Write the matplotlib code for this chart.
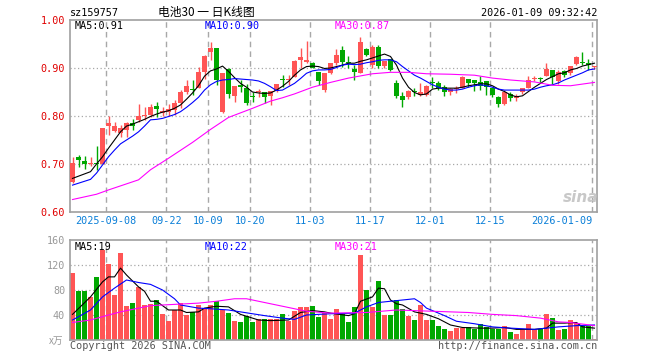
import numpy as np
import matplotlib
matplotlib.use("Agg")
import matplotlib.pyplot as plt

W, H = 660, 360

# daily candles, 2025-08-29 .. 2026-01-09 (88 sessions)
opens = [0.663, 0.715, 0.707, 0.700, 0.703, 0.699, 0.779, 0.769, 0.764, 0.771,
         0.785, 0.792, 0.799, 0.802, 0.821, 0.806, 0.808, 0.812, 0.828, 0.851,
         0.856, 0.858, 0.892, 0.934, 0.942, 0.809, 0.897, 0.842, 0.864, 0.858,
         0.841, 0.850, 0.851, 0.842, 0.853, 0.876, 0.875, 0.882, 0.917, 0.912,
         0.910, 0.892, 0.854, 0.890, 0.911, 0.938, 0.912, 0.897, 0.889, 0.939,
         0.906, 0.943, 0.904, 0.918, 0.869, 0.842, 0.839, 0.852, 0.844, 0.844,
         0.870, 0.868, 0.861, 0.849, 0.856, 0.858, 0.878, 0.874, 0.871, 0.873,
         0.858, 0.840, 0.825, 0.845, 0.838, 0.849, 0.858, 0.878, 0.879, 0.883,
         0.896, 0.872, 0.894, 0.889, 0.908, 0.912, 0.911, 0.902]
highs = [0.714, 0.719, 0.717, 0.715, 0.737, 0.776, 0.800, 0.788, 0.781, 0.788,
         0.793, 0.826, 0.818, 0.825, 0.830, 0.818, 0.826, 0.833, 0.854, 0.876,
         0.876, 0.903, 0.927, 0.955, 0.942, 0.889, 0.901, 0.862, 0.875, 0.866,
         0.851, 0.856, 0.851, 0.853, 0.867, 0.885, 0.885, 0.917, 0.941, 0.957,
         0.913, 0.892, 0.889, 0.911, 0.939, 0.946, 0.925, 0.906, 0.965, 0.941,
         0.948, 0.948, 0.915, 0.918, 0.876, 0.851, 0.854, 0.858, 0.868, 0.865,
         0.881, 0.872, 0.865, 0.858, 0.862, 0.883, 0.878, 0.875, 0.883, 0.873,
         0.861, 0.842, 0.854, 0.851, 0.846, 0.858, 0.883, 0.883, 0.882, 0.910,
         0.896, 0.896, 0.896, 0.904, 0.925, 0.934, 0.918, 0.905]
lows = [0.660, 0.694, 0.690, 0.695, 0.688, 0.699, 0.760, 0.767, 0.757, 0.757,
        0.771, 0.788, 0.792, 0.797, 0.797, 0.800, 0.800, 0.802, 0.816, 0.846,
        0.844, 0.858, 0.878, 0.917, 0.865, 0.807, 0.837, 0.830, 0.851, 0.823,
        0.830, 0.839, 0.828, 0.823, 0.851, 0.861, 0.865, 0.881, 0.899, 0.910,
        0.899, 0.865, 0.851, 0.888, 0.906, 0.903, 0.899, 0.874, 0.889, 0.924,
        0.899, 0.899, 0.899, 0.894, 0.838, 0.819, 0.835, 0.842, 0.842, 0.842,
        0.858, 0.854, 0.842, 0.844, 0.847, 0.858, 0.861, 0.853, 0.854, 0.844,
        0.839, 0.818, 0.823, 0.832, 0.832, 0.846, 0.858, 0.872, 0.868, 0.883,
        0.867, 0.867, 0.881, 0.885, 0.906, 0.906, 0.896, 0.897]
closes = [0.703, 0.708, 0.701, 0.703, 0.700, 0.776, 0.786, 0.779, 0.774, 0.785,
          0.779, 0.801, 0.803, 0.818, 0.815, 0.811, 0.815, 0.828, 0.851, 0.863,
          0.854, 0.892, 0.924, 0.941, 0.875, 0.889, 0.846, 0.862, 0.861, 0.828,
          0.840, 0.851, 0.839, 0.853, 0.867, 0.875, 0.878, 0.915, 0.922, 0.917,
          0.901, 0.873, 0.889, 0.910, 0.927, 0.913, 0.911, 0.891, 0.955, 0.927,
          0.943, 0.904, 0.915, 0.896, 0.842, 0.834, 0.853, 0.850, 0.851, 0.862,
          0.869, 0.858, 0.849, 0.856, 0.857, 0.881, 0.869, 0.868, 0.862, 0.861,
          0.844, 0.826, 0.851, 0.837, 0.842, 0.858, 0.875, 0.879, 0.878, 0.897,
          0.881, 0.892, 0.885, 0.904, 0.922, 0.911, 0.906, 0.903]
volumes = [107.7, 78.9, 78.9, 69.3, 101.3, 144.5, 122.0, 72.5, 139.7, 55.0,
           59.7, 85.3, 56.5, 58.0, 63.5, 41.6, 30.9, 48.5, 59.7, 40.5,
           45.3, 56.5, 51.7, 56.5, 62.9, 48.5, 43.7, 30.9, 29.3, 37.9,
           29.3, 34.1, 33.0, 33.0, 33.0, 41.8, 31.0, 46.8, 52.5, 52.5,
           55.0, 37.6, 43.0, 33.6, 49.6, 41.0, 28.8, 53.3, 136.0, 80.0,
           53.3, 94.4, 40.0, 40.0, 64.0, 49.6, 38.4, 32.0, 56.0, 32.0,
           32.0, 22.4, 17.6, 14.4, 18.7, 18.7, 20.8, 17.0, 25.0, 20.8,
           18.0, 18.0, 23.0, 12.8, 10.0, 15.5, 25.6, 15.5, 18.0, 41.6,
           35.2, 16.0, 17.6, 32.0, 27.7, 22.4, 22.4, 1.6]

# moving averages as drawn (read at candle positions)
ma5_idx = [0, 3, 4, 5, 6, 7, 8, 9, 10, 11, 12, 13, 14, 15, 16, 17, 18, 19, 20, 21,
           22, 23, 24, 25, 26, 27, 28, 29, 30, 31, 32, 33, 34, 35, 36, 37, 38, 39,
           40, 41, 42, 43, 44, 45, 46, 47, 48, 49, 50, 51, 52, 53, 54, 55, 56, 57,
           58, 59, 60, 61, 62, 63, 64, 65, 66, 67, 68, 69, 70, 71, 72, 73, 74, 75,
           76, 77, 78, 79, 80, 81, 82, 83, 84, 85, 86, 87]
ma5_val = [0.670, 0.684, 0.700, 0.715, 0.733, 0.750, 0.767, 0.779, 0.783, 0.788,
           0.793, 0.799, 0.804, 0.808, 0.811, 0.816, 0.823, 0.835, 0.848, 0.863,
           0.883, 0.894, 0.898, 0.904, 0.893, 0.880, 0.868, 0.860, 0.850, 0.848,
           0.847, 0.848, 0.854, 0.862, 0.872, 0.885, 0.896, 0.903, 0.904, 0.903,
           0.899, 0.900, 0.903, 0.906, 0.910, 0.910, 0.914, 0.917, 0.921, 0.925,
           0.929, 0.924, 0.906, 0.879, 0.860, 0.849, 0.844, 0.846, 0.856, 0.858,
           0.858, 0.858, 0.858, 0.860, 0.863, 0.865, 0.867, 0.867, 0.863, 0.856,
           0.851, 0.844, 0.840, 0.842, 0.851, 0.860, 0.868, 0.876, 0.882, 0.888,
           0.890, 0.896, 0.899, 0.904, 0.907, 0.910]
ma10_idx = [0, 3, 4, 5, 6, 7, 8, 9, 10, 11, 12, 13, 14, 15, 16, 17, 18, 19, 20, 21,
            22, 23, 24, 25, 26, 27, 28, 29, 30, 31, 32, 33, 34, 35, 36, 37, 38, 39,
            40, 41, 42, 43, 44, 45, 46, 47, 48, 49, 50, 51, 52, 53, 54, 55, 56, 57,
            58, 59, 60, 61, 62, 63, 64, 65, 66, 67, 68, 69, 70, 71, 72, 73, 74, 75,
            76, 77, 78, 79, 80, 81, 82, 83, 84, 85, 86, 87]
ma10_val = [0.656, 0.668, 0.681, 0.698, 0.715, 0.729, 0.742, 0.750, 0.758, 0.767,
            0.779, 0.792, 0.793, 0.795, 0.799, 0.803, 0.809, 0.818, 0.828, 0.839,
            0.854, 0.865, 0.872, 0.875, 0.876, 0.878, 0.877, 0.876, 0.875, 0.873,
            0.868, 0.861, 0.853, 0.854, 0.861, 0.868, 0.878, 0.889, 0.894, 0.896,
            0.896, 0.897, 0.901, 0.906, 0.908, 0.907, 0.908, 0.911, 0.913, 0.916,
            0.917, 0.917, 0.913, 0.903, 0.894, 0.885, 0.879, 0.872, 0.865, 0.860,
            0.856, 0.854, 0.854, 0.856, 0.860, 0.863, 0.865, 0.863, 0.860, 0.856,
            0.854, 0.854, 0.854, 0.854, 0.854, 0.856, 0.860, 0.863, 0.865, 0.869,
            0.875, 0.880, 0.885, 0.890, 0.896, 0.898]
ma30_idx = [0, 4, 6, 11, 13, 16, 20, 23, 26, 30, 33, 35, 37, 40, 43, 46, 50, 53,
            56, 59, 63, 67, 70, 73, 77, 80, 83, 87]
ma30_val = [0.626, 0.637, 0.646, 0.667, 0.688, 0.712, 0.745, 0.772, 0.797, 0.816,
            0.831, 0.838, 0.846, 0.860, 0.870, 0.879, 0.888, 0.891, 0.891, 0.888,
            0.887, 0.885, 0.879, 0.875, 0.871, 0.864, 0.863, 0.870]

vma5_idx = [0, 3, 5, 6, 7, 8, 9, 11, 12, 13, 14, 16, 18, 19, 21, 22, 24, 26, 28,
            31, 33, 36, 38, 40, 42, 43, 46, 47, 48, 50, 51, 52, 53, 54, 55, 57, 59,
            61, 63, 65, 68, 70, 72, 74, 77, 79, 80, 82, 84, 85, 87]
vma5_val = [41, 69, 93, 101, 101, 115, 104, 85, 78, 62, 62, 48, 48, 44, 45, 51, 54,
            53, 41, 32, 31, 32, 44, 47, 45, 43, 39, 42, 62, 69, 83, 82, 64, 58, 56,
            45, 41, 34, 24, 20, 19, 19, 20, 17, 17, 19, 27, 27, 28, 21, 19]
vma10_idx = [0, 3, 5, 7, 9, 11, 13, 15, 17, 18, 21, 23, 26, 28, 32, 35, 37, 39, 43,
             47, 49, 51, 54, 57, 58, 59, 62, 64, 67, 70, 73, 77, 79, 81, 84, 87]
vma10_val = [32, 48, 69, 83, 96, 92, 89, 80, 66, 56, 51, 50, 48, 45, 39, 35, 33, 40,
             42, 43, 53, 60, 63, 66, 60, 51, 39, 30, 26, 21, 19, 17, 19, 21, 23, 24]
vma30_idx = [0, 3, 6, 8, 11, 13, 17, 21, 24, 27, 29, 33, 36, 39, 43, 49, 54, 60, 66,
             70, 74, 78, 81, 83, 87]
vma30_val = [28, 32, 40, 45, 51, 55, 57, 59, 62, 66, 66, 58, 52, 46, 43, 44, 48, 46,
             44, 41, 39, 35, 29, 28, 23]

date_labels = ["2025-09-08", "09-22", "10-09", "10-20", "11-03", "11-17", "12-01",
               "12-15", "2026-01-09"]
date_index = [6, 16, 23, 30, 40, 50, 60, 70, 87]

RED = "#ff5555"
GREEN = "#00a800"
GRID = "#a8a8a8"
FRAME = "#a0a0a0"
MONO = "DejaVu Sans Mono"
CJK = ["Noto Sans CJK SC", "DejaVu Sans"]

plt.rcParams["font.family"] = MONO

fig = plt.figure(figsize=(W / 100, H / 100), dpi=100)
ax = fig.add_axes([70 / W, 1 - 212 / H, 527 / W, 192 / H])
axv = fig.add_axes([70 / W, 1 - 340 / H, 527 / W, 100 / H])

idx = np.arange(len(closes))
o, h, l, c = map(np.array, (opens, highs, lows, closes))
colors = [RED if cc >= oo else GREEN for oo, cc in zip(o, c)]
xlim = (-0.42, len(closes) - 0.58)
vlines_x = [d - 0.38 for d in date_index]

for a in (ax, axv):
    a.set_xlim(*xlim)
    for s in a.spines.values():
        s.set_color(FRAME)
        s.set_linewidth(1.2)
    for x in vlines_x:
        a.axvline(x, color=GRID, lw=1, linestyle=(0, (4, 3)), zorder=0)

# price panel
ax.set_ylim(0.60, 1.00)
for y in (0.7, 0.8, 0.9):
    ax.axhline(y, color=GRID, lw=0.9, linestyle=(0, (1, 2)), zorder=0)
ax.vlines(idx, l, h, colors=colors, lw=1, zorder=2)
body_low = np.minimum(o, c)
body_h = np.maximum(np.abs(c - o), 0.0022)
ax.bar(idx, body_h, bottom=body_low, width=0.84, color=colors, linewidth=0, zorder=3)
ax.plot(ma5_idx, ma5_val, color="black", lw=0.8, zorder=4)
ax.plot(ma10_idx, ma10_val, color="#0000ff", lw=0.8, zorder=4)
ax.plot(ma30_idx, ma30_val, color="#ff00ff", lw=0.8, zorder=4)

ax.set_yticks([0.6, 0.7, 0.8, 0.9, 1.0])
ax.set_yticklabels(["0.60", "0.70", "0.80", "0.90", "1.00"])
ax.tick_params(axis="y", length=0, pad=3.5, labelcolor="#e00000", labelsize=7.3)
ax.set_xticks(vlines_x)
ax.set_xticklabels(date_labels)
ax.tick_params(axis="x", length=0, pad=3, labelcolor="#0a7fd8", labelsize=7.3)
ax.get_xticklabels()[-1].set_ha("right")

# volume panel
axv.set_ylim(0, 160)
for y in (40, 80, 120):
    axv.axhline(y, color=GRID, lw=0.9, linestyle=(0, (1, 2)), zorder=0)
axv.bar(idx, volumes, width=0.84, color=colors, linewidth=0, zorder=2)
axv.plot(vma5_idx, vma5_val, color="black", lw=0.8, zorder=4)
axv.plot(vma10_idx, vma10_val, color="#0000ff", lw=0.8, zorder=4)
axv.plot(vma30_idx, vma30_val, color="#ff00ff", lw=0.8, zorder=4)
axv.set_xticks([])
axv.set_yticks([40, 80, 120, 160])
axv.tick_params(axis="y", length=0, pad=3.5, labelcolor="#999999", labelsize=7.3)


def put(px, py, s, **kw):
    fig.text(px / W, 1 - py / H, s, va="center", **kw)


# header
put(70, 12.5, "sz159757", fontsize=7.3, color="black")
put(206, 12.5, "电池30 一 日K线图", fontsize=8.5, color="black", ha="center",
    family=CJK)
put(597, 12.5, "2026-01-09 09:32:42", fontsize=7.3, color="black", ha="right")

# MA legends
put(75, 26, "MA5:0.91", fontsize=7.3, color="black")
put(205, 26, "MA10:0.90", fontsize=7.3, color="#0000ff")
put(335, 26, "MA30:0.87", fontsize=7.3, color="#ff00ff")
put(75, 247, "MA5:19", fontsize=7.3, color="black")
put(205, 247, "MA10:22", fontsize=7.3, color="#0000ff")
put(335, 247, "MA30:21", fontsize=7.3, color="#ff00ff")

# footer / unit / watermark
put(63, 341, "x万", fontsize=7, color="#999999", ha="right", family=CJK)
put(70, 346, "Copyright 2026 SINA.COM", fontsize=7.3, color="#555555")
put(597, 346, "http://finance.sina.com.cn", fontsize=7.3, color="#555555", ha="right")
put(581, 197, "sina", fontsize=11, color="#c8c8c8", ha="center", style="italic",
    weight="bold", family="DejaVu Sans")

fig.savefig("out.png", dpi=100)
